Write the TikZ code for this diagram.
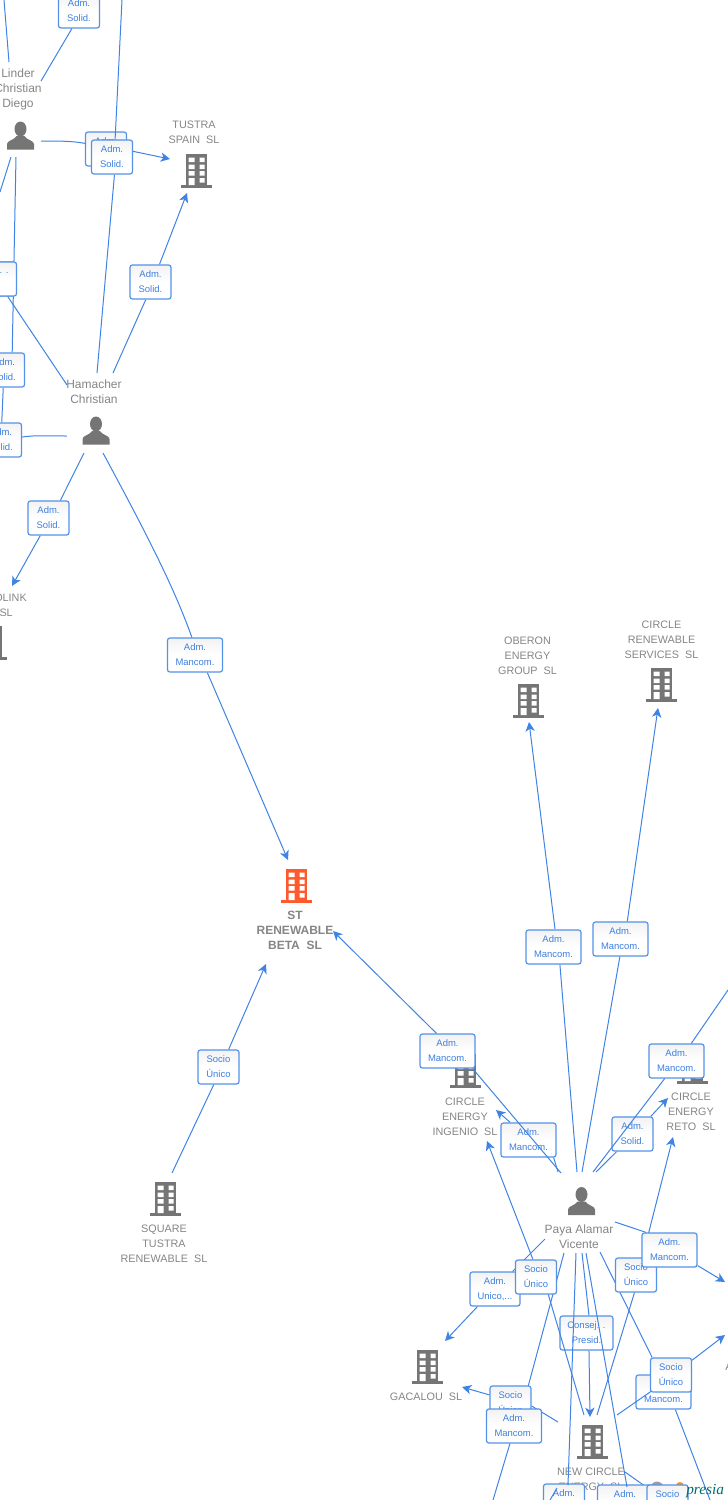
\documentclass[tikz,border=0pt]{standalone}
\usepackage{fontspec}
\setmainfont{Liberation Sans}
\newfontfamily\logofont{Liberation Serif}
\usetikzlibrary{arrows.meta}
\pgfdeclarelayer{bg}\pgfdeclarelayer{top}\pgfsetlayers{bg,main,top}
\definecolor{linkblue}{HTML}{3F83E4}
\definecolor{boxedge}{HTML}{5492E8}
\definecolor{boxtext}{HTML}{3D7FE0}
\definecolor{iconcol}{HTML}{757575}
\definecolor{labelcol}{HTML}{858585}
\definecolor{focuscol}{HTML}{FF5A2D}
\tikzset{
  link/.style={draw=linkblue,line width=0.75pt},
  arrowlink/.style={link,-{Stealth[length=7pt,width=7pt,inset=2pt]}},
  tagbox/.style={draw=boxedge,line width=0.9pt,rounded corners=1.8pt,top color=black!5,bottom color=white,middle color=white,
    inner sep=0pt,minimum height=25.5pt,text=boxtext,align=center,font=\fontsize{7.1}{11.25}\selectfont,
    execute at begin node={\rule{0pt}{9.2pt}}},
  tagS/.style={tagbox,minimum width=30.75pt},
  tagW/.style={tagbox,minimum width=41.25pt},
  tagU/.style={tagbox,minimum width=37.5pt},
  tagC/.style={tagbox,minimum width=39.75pt},
  firm/.style={inner sep=0pt,yshift=-0.6pt,text=labelcol,align=center,font=\fontsize{8.1}{11.25}\selectfont},
  firmmain/.style={firm,font=\fontsize{9}{11.25}\selectfont\bfseries},
  person/.style={inner sep=0pt,yshift=-0.6pt,text=labelcol,align=center,font=\fontsize{9}{11.25}\selectfont},
}
\newcommand{\bldgicon}[3][iconcol]{%
  \begin{scope}[shift={(#2,#3)}]
    \fill[#1] (-11,-17) rectangle (10,14);
    \fill[#1] (-16,14) rectangle (15,17);
    \fill[white] (-8.5,-13.5) rectangle (-2.5,-9) (2.5,-13.5) rectangle (7.5,-9)
      (-8.5,-6.5) rectangle (-2.5,-2) (2.5,-6.5) rectangle (7.5,-2)
      (-8.5,0) rectangle (-2.5,4.5) (2.5,0) rectangle (7.5,4.5)
      (-8.5,7) rectangle (-2.5,14) (2.5,7) rectangle (7.5,11.5);
  \end{scope}}
\newcommand{\personicon}[2]{%
  \begin{scope}[shift={(#1,#2)}]
    \fill[iconcol] (0,-7) ellipse [x radius=6,y radius=7.5];
    \fill[iconcol] (-13.5,13.5) -- (-13.5,8) .. controls (-13.5,4.5) and (-6,4) .. (-4,0) -- (4,0)
      .. controls (6,4) and (13.5,4.5) .. (13.5,8) -- (13.5,13.5) -- cycle;
  \end{scope}}
\begin{document}
\begin{tikzpicture}[x=0.75pt,y=-0.75pt]
\useasboundingbox (0,0) rectangle (728,1500);
% ---------- labels of people and firms
\node[person] (linder) at (18,89) {Linder\\Christian\\Diego};
\node[person] (hamacher) at (94,390.5) {Hamacher\\Christian};
\node[person] (paya) at (579,1235.5) {Paya Alamar\\Vicente};
\node[firm] (tustra) at (194,131.5) {TUSTRA\\SPAIN\ \ SL};
\node[firm,anchor=east] (olink) at (27,597) {OLINK};
\node[firm,anchor=east] (olinksl) at (13,612) {SL};
\node[firmmain] (stbeta) at (295,930) {ST\\RENEWABLE\\BETA\ \ SL};
\node[firm] (square) at (164,1243) {SQUARE\\TUSTRA\\RENEWABLE\ \ SL};
\node[firm] (oberon) at (527.5,655) {OBERON\\ENERGY\\GROUP\ \ SL};
\node[firm] (crs) at (661.5,639) {CIRCLE\\RENEWABLE\\SERVICES\ \ SL};
\node[firm] (ingenio) at (465,1115.5) {CIRCLE\\ENERGY\\INGENIO\ \ SL};
\node[firm] (reto) at (691,1110.5) {CIRCLE\\ENERGY\\RETO\ \ SL};
\node[firm] (gacalou) at (426,1396) {GACALOU\ \ SL};
\node[firm] (newcircle) at (591,1478.5) {NEW CIRCLE\\ENERGY\ \ SL};
\node[firm,anchor=west] (apart) at (725,1366) {A};
% ---------- free ends of connectors
\coordinate (topA) at (4,0);
\coordinate (topB) at (122,0);
\coordinate (linderT) at (9,62);
\coordinate (linderTR) at (41,81);
\coordinate (linderR) at (41,141);
\coordinate (linderBL) at (11,157);
\coordinate (linderB) at (16,157);
\coordinate (leftOut) at (0,192);
\coordinate (tustraW) at (170,159);
\coordinate (tustraS) at (187,193);
\coordinate (hamTL) at (67,385);
\coordinate (hamT) at (97,373);
\coordinate (hamTR) at (113,373);
\coordinate (hamL) at (67,436);
\coordinate (hamBL) at (84,453);
\coordinate (hamBR) at (103,453);
\coordinate (olinkN) at (12,586);
\coordinate (stN) at (288,860);
\coordinate (stE) at (333,931);
\coordinate (stS) at (266,964);
\coordinate (squareN) at (172,1173);
\coordinate (oberonS) at (529,722);
\coordinate (crsS) at (658,708);
\coordinate (ingE) at (496,1110);
\coordinate (ingS) at (487,1141);
\coordinate (retoW) at (668,1098);
\coordinate (retoS) at (673,1137);
\coordinate (farNE) at (728,990);
\coordinate (payaA) at (561,1173);
\coordinate (payaA2) at (558,1172);
\coordinate (payaB) at (577,1172);
\coordinate (payaC) at (582,1172);
\coordinate (payaD) at (593,1172);
\coordinate (payaD2) at (596,1172);
\coordinate (payaR) at (615,1222);
\coordinate (payaBL) at (545,1239);
\coordinate (payaS1) at (564,1253);
\coordinate (payaS2) at (576,1253);
\coordinate (payaS3) at (582,1253);
\coordinate (payaS4) at (586,1253);
\coordinate (payaS5) at (600,1252);
\coordinate (gacN) at (445,1341);
\coordinate (gacE) at (462,1387);
\coordinate (ncN) at (590,1417);
\coordinate (ncNL) at (584,1415);
\coordinate (ncNR) at (597,1415);
\coordinate (ncNE) at (617,1415);
\coordinate (ncW) at (558,1422);
\coordinate (ncE) at (625,1472);
\coordinate (farE1) at (725,1282);
\coordinate (farE2) at (725,1335);
\coordinate (botA) at (493,1500);
\coordinate (botB) at (710,1500);
\coordinate (botC) at (568,1485);
\coordinate (botD) at (627,1487);
\coordinate (slashA) at (557,1488);
\coordinate (slashB) at (550,1500);
\coordinate (socioW) at (653,1390);
% ---------- boxes that lie under the connectors, connectors, icons
\begin{pgfonlayer}{bg}
  \bldgicon{197}{171}
  \bldgicon{-8}{643}
  \bldgicon[focuscol]{297}{886}
  \bldgicon{166}{1199}
  \bldgicon{529}{701}
  \bldgicon{662}{685}
  \bldgicon{466}{1071}
  \bldgicon{693}{1067}
  \bldgicon{428}{1367}
  \bldgicon{593}{1442}
  \personicon{20.5}{136}
  \personicon{96}{431}
  \personicon{581.5}{1201.5}
  \fill[iconcol!70] (657,1488) circle [radius=6.5];
  \fill[orange!85!yellow] (680,1486) circle [radius=4];
  \node[tagS] (b1back) at (106,149) {Adm.\\Solid.};
  \node[tagS] (b3back) at (-5.5,279) {};
\end{pgfonlayer}
\node[tagS] (b0) at (79,11) {Adm.\\Solid.};
\node[tagS] (b1) at (112,157) {Adm.\\Solid.};
\node[tagS] (b2) at (150.5,282) {Adm.\\Solid.};
\node[tagS] (b3) at (-4,279) {};
\node[inner sep=0pt,text=boxtext,font=\fontsize{7.1}{11.25}\selectfont] (b3text) at (4,272.5) {. .};
\node[tagS] (b4) at (4,370) {Adm.\\Solid.};
\node[tagS] (b5) at (1,440) {Adm.\\Solid.};
\node[tagS] (b6) at (48.5,518) {Adm.\\Solid.};
\node[tagW] (b7) at (195,655) {Adm.\\Mancom.};
\node[tagS] (b8) at (218.5,1067) {Socio\\Único};
\node[tagW] (b10) at (553.5,947) {Adm.\\Mancom.};
\node[tagW] (b11) at (620.5,939) {Adm.\\Mancom.};
\node[tagW] (b12) at (528.5,1140) {Adm.\\Mancom.};
\node[tagS] (b13) at (632.5,1134) {Adm.\\Solid.};
\node[tagW] (b9) at (447.5,1051) {Adm.\\Mancom.};
\node[tagW] (b14) at (676.5,1061) {Adm.\\Mancom.};
\node[tagS] (b15) at (636,1275) {Socio\\Único};
\node[tagW] (b16) at (669.5,1250) {Adm.\\Mancom.};
\node[tagU] (b17) at (495,1289) {Adm.\\Unico,...};
\node[tagS] (b18) at (536,1277) {Socio\\Único};
\node[tagC] (b19) at (586.5,1333) {Consej. .\\Presid.};
\node[tagS] (b20) at (510.5,1403) {Socio\\Único};
\node[tagW] (b21) at (514,1426) {Adm.\\Mancom.};
\node[tagW] (b22) at (663.5,1392) {Adm.\\Mancom.};
\draw[link] (ncNE) -- (socioW);
\node[tagS] (b23) at (671,1375) {Socio\\Único};
\node[tagS] (b24) at (564,1501) {Adm.\\Solid.};
\node[tagW] (b25) at (625,1502) {Adm.\\Mancom.};
\node[tagS] (b26) at (667.5,1502) {Socio\\Único};
\node[text=teal!85!black,inner sep=0pt,anchor=base west,font=\logofont\itshape\fontsize{11.5}{12}\selectfont] (logo) at (686,1494) {presia};
\begin{pgfonlayer}{bg}
  \draw[link] (topA) -- (linderT);
  \draw[link] (linderTR) -- (b0.-112);
  \draw[link] (topB) -- (b1.80);
  \draw[link] (b1.-82) -- (hamT);
  \draw[link] (linderR) .. controls (60,141) and (72,141) .. (b1back.165);
  \draw[arrowlink] (b1.15) -- (tustraW);
  \draw[link] (hamTR) -- (b2.-105);
  \draw[arrowlink] (b2.63) -- (tustraS);
  \draw[link] (linderBL) -- (leftOut);
  \draw[link] (linderB) -- (b4.65);
  \draw[link] (b4) -- (b5);
  \draw[link] (b3) -- (hamTL);
  \draw[link] (hamL) .. controls (50,436) and (35,435) .. (b5.8);
  \draw[link] (hamBL) -- (b6.56);
  \draw[arrowlink] (b6.-115) -- (olinkN);
  \draw[link] (hamBR) .. controls (150,540) and (175,590) .. (b7.100);
  \draw[arrowlink] (b7.-55) -- (stN);
  \draw[link] (squareN) -- (b8.-105);
  \draw[arrowlink] (b8.60) -- (stS);
  \draw[arrowlink] (b9.122) -- (stE);
  \draw[arrowlink] (b10.85) -- (oberonS);
  \draw[link] (b10.-70) -- (payaB);
  \draw[arrowlink] (b11.69) -- (crsS);
  \draw[link] (b11.-92) -- (payaC);
  \draw[link] (payaA2) -- (b12.-35);
  \draw[arrowlink] (b12.136) -- (ingE);
  \draw[link] (payaD2) -- (b13.-132);
  \draw[arrowlink] (b13.44) -- (retoW);
  \draw[link] (b14.50) -- (farNE);
  \draw[link] (payaR) -- (b16.143);
  \draw[arrowlink] (b16.-29) -- (farE1);
  \draw[arrowlink] (b15.70) -- (retoS);
  \draw[link] (payaBL) -- (b17);
  \draw[arrowlink] (b17.-135) -- (gacN);
  \draw[arrowlink] (b18.100) -- (ingS);
  \draw[link] (payaS3) -- (b19.82);
  \draw[arrowlink] (b19.-82) -- (ncN);
  \draw[link] (payaS1) -- (b21.65);
  \draw[link] (b21.-103) -- (botA);
  \draw[link] (payaS5) -- (b23.137);
  \draw[arrowlink] (b23.35) -- (farE2);
  \draw[link] (b22.-56) -- (botB);
  \draw[arrowlink] (b20.159) -- (gacE);
  \draw[link] (b20.-8) -- (ncW);
  \draw[link] (ncE) -- (b26);
\end{pgfonlayer}
\begin{pgfonlayer}{top}
  \draw[link] (payaA) -- (b9.-35);
  \draw[link] (payaD) -- (b14.-124);
  \draw[link] (b18.-55) -- (ncNL);
  \draw[link] (b15.-95) -- (ncNR);
  \draw[link] (payaS4) -- (botD);
  \draw[link] (payaS2) -- (botC);
  \draw[link] (slashA) -- (slashB);
\end{pgfonlayer}
\end{tikzpicture}
\end{document}
